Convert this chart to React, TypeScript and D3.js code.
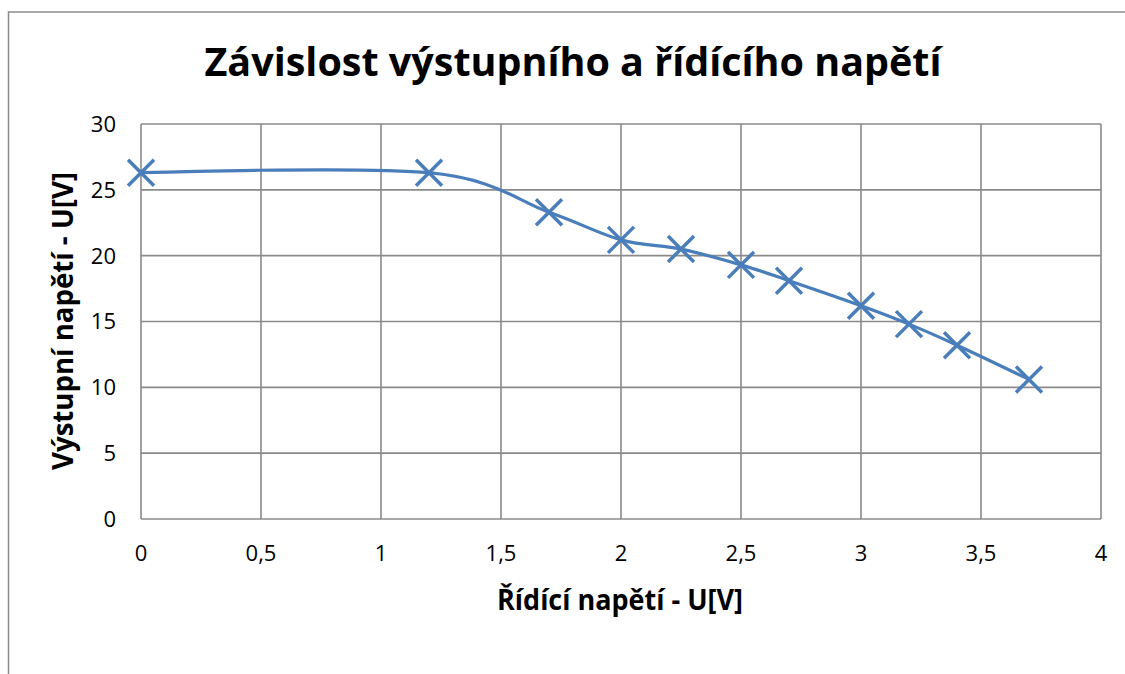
import React from "react";
import * as d3 from "d3";

const xValues = [0, 1.2, 1.7, 2.0, 2.25, 2.5, 2.7, 3.0, 3.2, 3.4, 3.7];
const yValues = [26.3, 26.3, 23.3, 21.2, 20.5, 19.3, 18.1, 16.2, 14.8, 13.2, 10.6];
const xTicks = [0, 0.5, 1, 1.5, 2, 2.5, 3, 3.5, 4];
const yTicks = [0, 5, 10, 15, 20, 25, 30];
const title = "Závislost výstupního a řídícího napětí";
const xTitle = "Řídící napětí - U[V]";
const yTitle = "Výstupní napětí - U[V]";

const W = 1125;
const H = 674;
const plot = { left: 141, right: 1101, top: 124, bottom: 519 };
const font = "'Open Sans', 'DejaVu Sans', sans-serif";
const blue = "#4a7ebb";
const grid = "#8a8a8a";

export default function App() {
  const x = d3.scaleLinear().domain([0, 4]).range([plot.left, plot.right]);
  const y = d3.scaleLinear().domain([0, 30]).range([plot.bottom, plot.top]);
  const pts: [number, number][] = xValues.map((v, i) => [x(v), y(yValues[i])]);
  const line = d3.line().curve(d3.curveCardinal.tension(0))(pts) || "";
  const fmt = (v: number) => String(v).replace(".", ",");
  const m = 13;

  return (
    <svg
      width={W}
      height={H}
      style={{ position: "absolute", left: 0, top: 0, background: "#fff" }}
      fontFamily={font}
    >
      <rect x={0} y={0} width={W} height={H} fill="#fff" />
      {/* chart frame */}
      <path d={`M8.5,${H + 5}V12H${W + 5}`} fill="none" stroke="#8a8a8a" strokeWidth={1.5} />

      {/* gridlines */}
      {yTicks.map((t) => (
        <line key={"gy" + t} x1={plot.left} x2={plot.right} y1={y(t)} y2={y(t)} stroke={grid} strokeWidth={1.6} />
      ))}
      {xTicks.map((t) => (
        <line key={"gx" + t} x1={x(t)} x2={x(t)} y1={plot.top} y2={plot.bottom} stroke={grid} strokeWidth={1.6} />
      ))}

      {/* tick labels */}
      {yTicks.map((t) => (
        <text key={"ty" + t} x={116} y={y(t)} dy="0.36em" textAnchor="end" fontSize={22} fill="#000">
          {fmt(t)}
        </text>
      ))}
      {xTicks.map((t) => (
        <text key={"tx" + t} x={x(t)} y={553} dy="0.36em" textAnchor="middle" fontSize={22} fill="#000">
          {fmt(t)}
        </text>
      ))}

      {/* series */}
      <path d={line} fill="none" stroke={blue} strokeWidth={3.2} />
      {pts.map(([px, py], i) => (
        <path
          key={"m" + i}
          d={`M${px - m},${py - m}L${px + m},${py + m}M${px - m},${py + m}L${px + m},${py - m}`}
          stroke={blue}
          strokeWidth={3.5}
          fill="none"
        />
      ))}

      {/* titles */}
      <text x={573} y={76} textAnchor="middle" fontSize={40} fontWeight="bold" fill="#000" textLength={737} lengthAdjust="spacingAndGlyphs">
        {title}
      </text>
      <text x={620} y={610} textAnchor="middle" fontSize={29} fontWeight="bold" fill="#000" textLength={246} lengthAdjust="spacingAndGlyphs">
        {xTitle}
      </text>
      <text
        transform={`translate(73,321) rotate(-90)`}
        textAnchor="middle"
        fontSize={29}
        fontWeight="bold"
        fill="#000"
        textLength={298}
        lengthAdjust="spacingAndGlyphs"
      >
        {yTitle}
      </text>
    </svg>
  );
}
